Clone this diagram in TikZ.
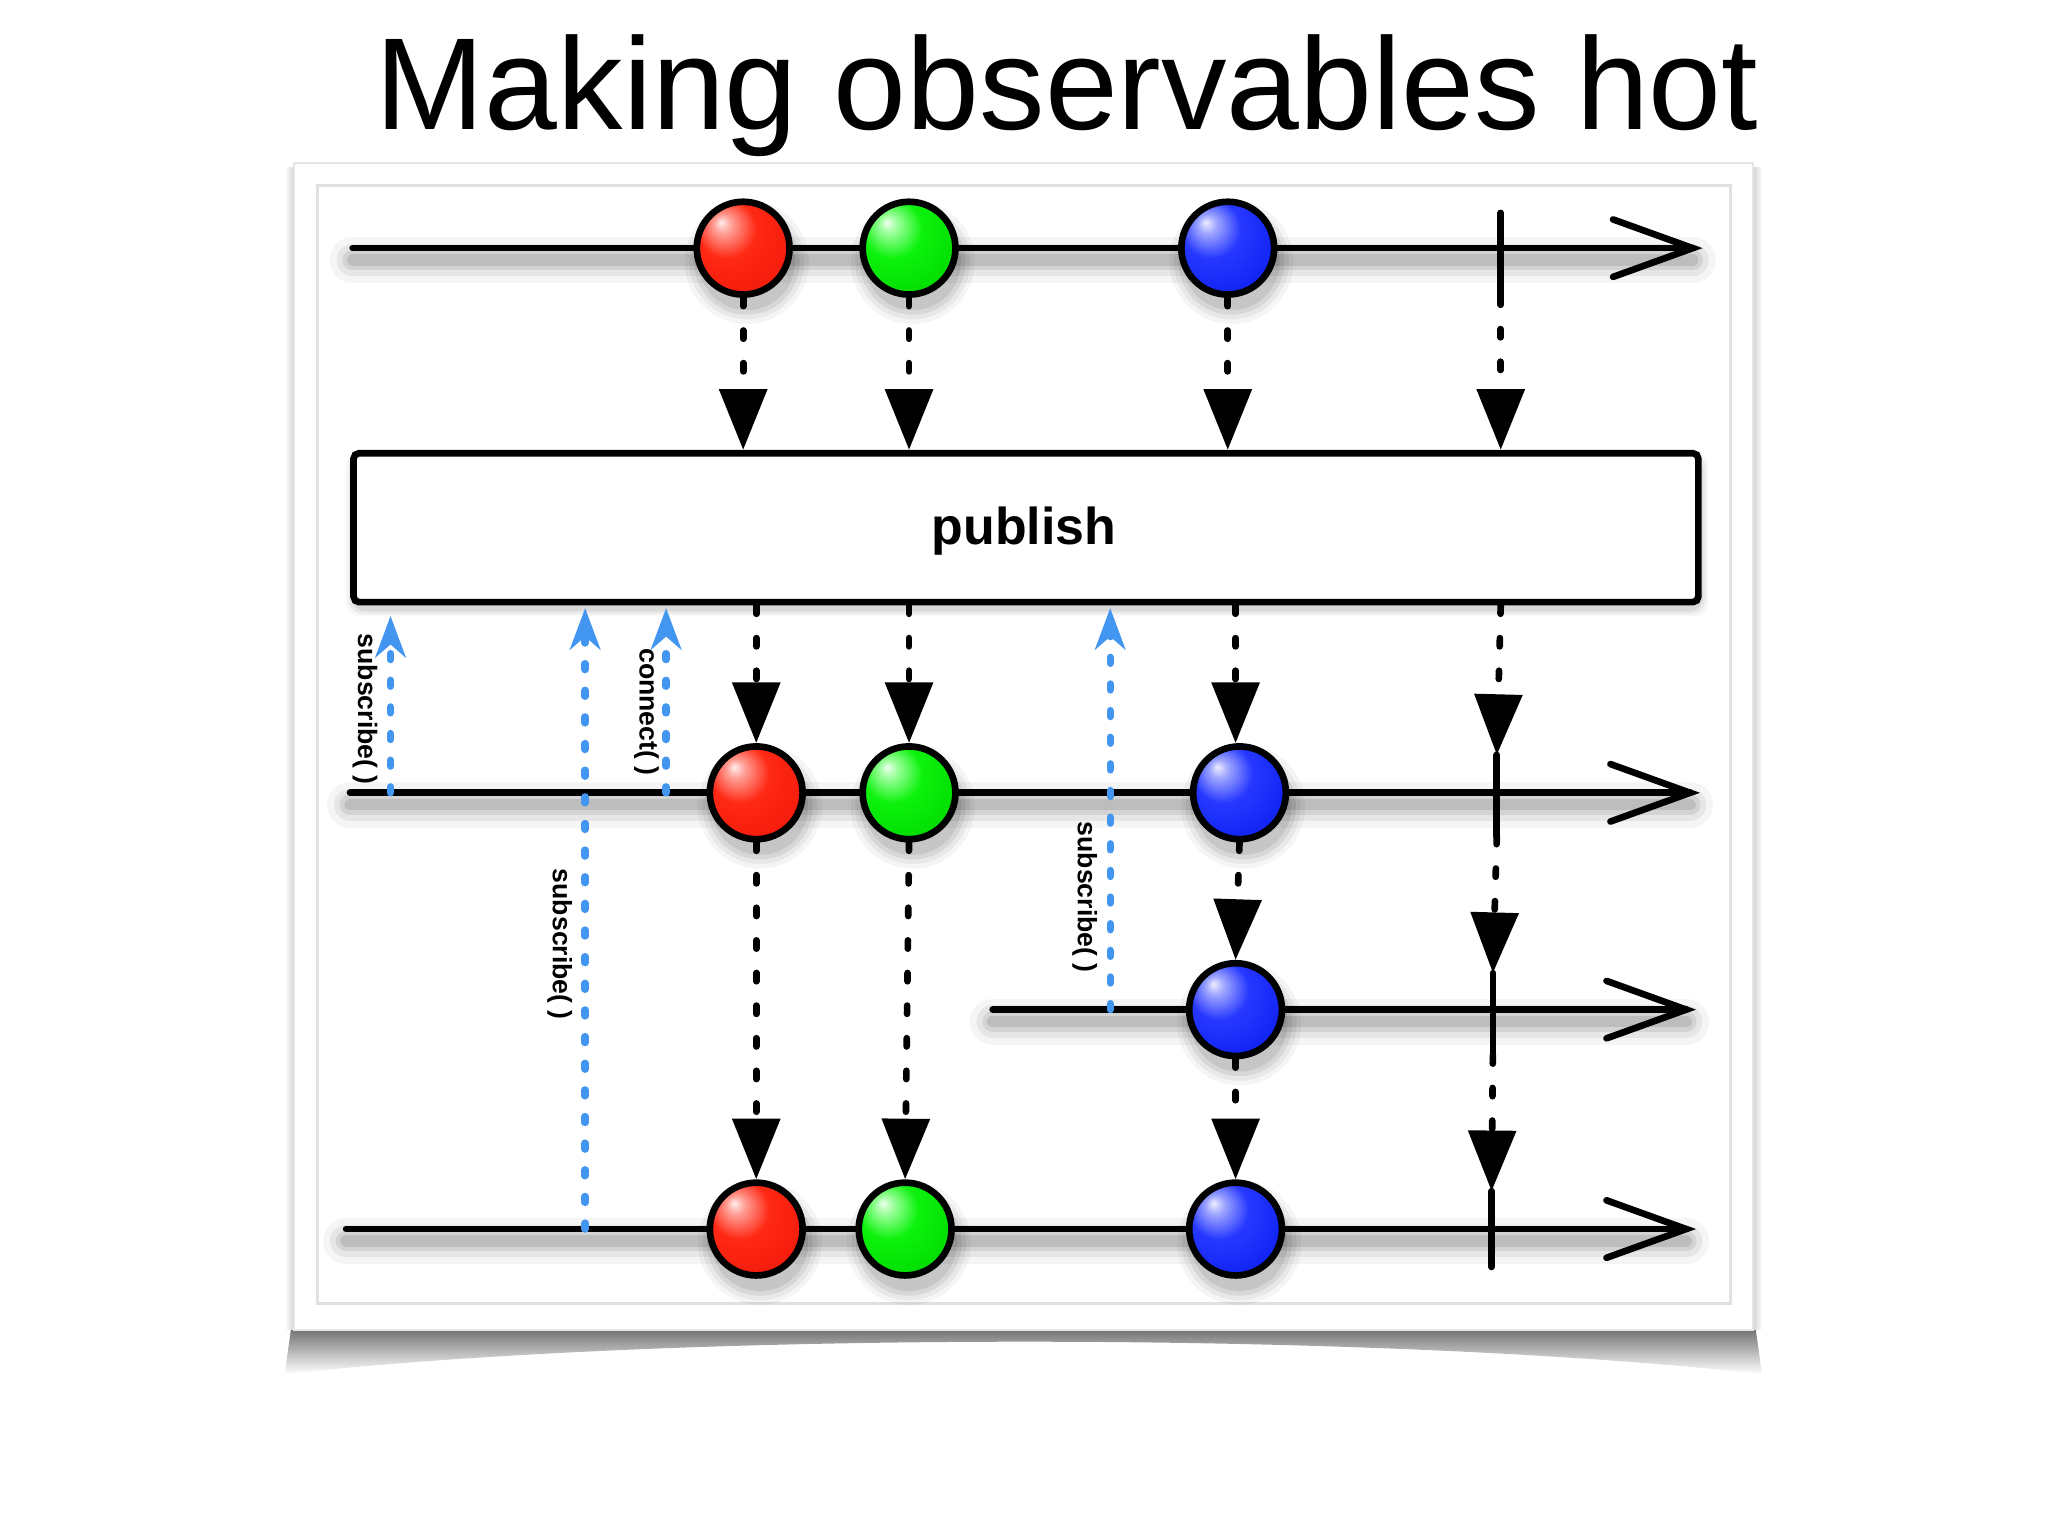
\documentclass[tikz,border=0pt]{standalone}
\usepackage{fontspec}
\setmainfont{Liberation Sans}
\usetikzlibrary{arrows.meta,calc}
\definecolor{sblue}{RGB}{66,150,240}
\pgfdeclareradialshading{redballsh}{\pgfqpoint{-12bp}{14bp}}{%
  rgb(0bp)=(1,0.93,0.93); rgb(5bp)=(1,0.62,0.58); rgb(16bp)=(1,0.16,0.08);
  rgb(36bp)=(0.95,0.1,0.04); rgb(52bp)=(0.62,0.03,0.0); rgb(64bp)=(0.45,0.0,0.0)}
\pgfdeclareradialshading{greenballsh}{\pgfqpoint{-12bp}{14bp}}{%
  rgb(0bp)=(0.93,1,0.93); rgb(5bp)=(0.6,1,0.6); rgb(16bp)=(0.05,0.95,0.05);
  rgb(36bp)=(0.0,0.85,0.0); rgb(52bp)=(0.0,0.55,0.0); rgb(64bp)=(0.0,0.38,0.0)}
\pgfdeclareradialshading{blueballsh}{\pgfqpoint{-12bp}{14bp}}{%
  rgb(0bp)=(0.93,0.93,1); rgb(5bp)=(0.62,0.65,1); rgb(16bp)=(0.15,0.22,1);
  rgb(36bp)=(0.05,0.12,0.95); rgb(52bp)=(0.0,0.05,0.6); rgb(64bp)=(0.0,0.0,0.4)}
\tikzset{
  ball/.style={circle, draw=black, line width=1.45pt, minimum size=0.71cm, inner sep=0pt},
  redball/.style={ball, shading=redballsh},
  greenball/.style={ball, shading=greenballsh},
  blueball/.style={ball, shading=blueballsh},
  tl/.style={line width=1.45pt, line cap=round, line join=miter},
  evarrow/.style={line width=1.45pt, dash pattern=on 1.8pt off 5.3pt, line cap=round,
    -{Triangle[length=13.2pt,width=10.2pt]}},
  subarrow/.style={sblue, line width=1.6pt, dash pattern=on 1.3pt off 4.5pt, line cap=round,
    -{Stealth[length=9pt,width=6.6pt,inset=2.8pt]}},
  lab/.style={font=\bfseries\fontsize{5.8}{6}\selectfont, rotate=-90, inner sep=0pt},
  pubbox/.style={draw=black, line width=1.45pt, fill=white, rounded corners=1.2pt,
    minimum width=10.29cm, minimum height=1.14cm, inner sep=0pt},
}
\newcommand\tlshadow[2]{%
  \foreach \ww/\oo in {10pt/0.04,7pt/0.06,4.5pt/0.08,2.5pt/0.1}{%
    \draw[line width=\ww, black, opacity=\oo, line cap=round] ([yshift=-2.6pt]#1) -- ([yshift=-2.6pt]#2);}}
\newcommand\ballshadow[1]{%
  \foreach \rr/\oo in {13.5pt/0.04,12.5pt/0.05,11.5pt/0.07,10.5pt/0.08}{%
    \fill[black, opacity=\oo] ([xshift=0.8pt,yshift=-3pt]#1) circle (\rr);}}
\begin{document}
\begin{tikzpicture}[x=0.01cm,y=-0.01cm]
\useasboundingbox (0,0) rectangle (1568,1176);
\fill[white] (0,0) rectangle (1568,1176);
% paper and its shadow
\shade[top color=black!58,bottom color=white] (223,1016) -- (1344,1016) -- (1349,1052) .. controls (1050,1019) and (520,1019) .. (218,1052) -- cycle;
\shade[left color=white,right color=black!18] (218,128) rectangle (225,1018);
\shade[left color=black!18,right color=white] (1342,128) rectangle (1349,1018);
\draw[black!10, fill=white] (225,125) rectangle (1342,1018);
\draw[black!12, line width=0.6pt] (243,142) rectangle (1325,998);
% title
\node[anchor=base, font=\fontsize{28.5}{30}\selectfont, inner sep=0pt] (title) at (817,99.5) {Making observables hot};
% coordinates
\coordinate (L1s) at (270,190); \coordinate (L1e) at (1296,190);
\coordinate (L2s) at (268,607); \coordinate (L2e) at (1294,607);
\coordinate (L3s) at (760,773); \coordinate (L3e) at (1291,773);
\coordinate (L4s) at (265,941); \coordinate (L4e) at (1291,941);
\coordinate (k1t) at (1149,163); \coordinate (k1b) at (1149,227);
\coordinate (k2t) at (1146,578); \coordinate (k2b) at (1146,640);
\coordinate (k3t) at (1143,745); \coordinate (k3b) at (1143,808);
\coordinate (k4t) at (1142,912); \coordinate (k4b) at (1142,970);
\coordinate (cr1) at (569,190); \coordinate (cg1) at (696,190); \coordinate (cb1) at (940,190);
\coordinate (cr2) at (579,607); \coordinate (cg2) at (696,607); \coordinate (cb2) at (949,607);
\coordinate (cb3) at (946,773);
\coordinate (cr4) at (579,941); \coordinate (cg4) at (693,941); \coordinate (cb4) at (946,941);
% shadows
\tlshadow{L1s}{L1e}\tlshadow{L2s}{L2e}\tlshadow{L3s}{L3e}\tlshadow{L4s}{L4e}
\foreach \oo/\dd in {0.03/6,0.05/4,0.07/2}{
  \fill[black, opacity=\oo, rounded corners=3pt] (271-\dd,352-\dd) rectangle (1302+\dd,466+\dd);}
% timelines
\foreach \s/\e in {L1s/L1e,L2s/L2e,L3s/L3e,L4s/L4e}{
  \draw[tl] (\s) -- (\e);
  \draw[tl] ($(\e)+(-61,-22)$) -- (\e) -- ($(\e)+(-61,22)$);}
\foreach \a/\b in {k1t/k1b,k2t/k2b,k3t/k3b,k4t/k4b}{\draw[tl] (\a) -- (\b);}
% balls
\foreach \c in {cr1,cg1,cb1,cr2,cg2,cb2,cb3,cr4,cg4,cb4}{\ballshadow{\c}}
\node[redball] (r1) at (cr1) {};
\node[greenball] (g1) at (cg1) {};
\node[blueball] (b1) at (cb1) {};
\node[redball] (r2) at (cr2) {};
\node[greenball] (g2) at (cg2) {};
\node[blueball] (b2) at (cb2) {};
\node[blueball] (b3) at (cb3) {};
\node[redball] (r4) at (cr4) {};
\node[greenball] (g4) at (cg4) {};
\node[blueball] (b4) at (cb4) {};
% publish box
\node[pubbox] (pub) at (785.5,404) {};
\node[anchor=base, font=\bfseries\fontsize{11.3}{12}\selectfont, inner sep=0pt] (pubtext) at (784,417) {publish};
% event arrows
\draw[evarrow] (r1.south) -- (r1.south |- pub.north);
\draw[evarrow] (g1.south) -- (g1.south |- pub.north);
\draw[evarrow] (b1.south) -- (b1.south |- pub.north);
\draw[evarrow] (k1b) -- (k1b |- pub.north);
\draw[evarrow] (r2 |- pub.south) -- (r2.north);
\draw[evarrow] (g2 |- pub.south) -- (g2.north);
\draw[evarrow] ($(b2 |- pub.south)+(-3,0)$) -- ($(b2.north)+(-3,0)$);
\draw[evarrow] ($(k2t |- pub.south)+(3,0)$) -- (k2t);
\draw[evarrow] (r2.south) -- (r4.north);
\draw[evarrow] (g2.south) -- (g4.north);
\draw[evarrow] (b2.south) -- (b3.north);
\draw[evarrow] (k2b) -- (k3t);
\draw[evarrow] (b3.south) -- (b4.north);
\draw[evarrow] (k3b) -- (k4t);
% subscribe / connect arrows
\coordinate (s1) at (299,607);
\coordinate (s2) at (448,941);
\coordinate (cn) at (510,607);
\coordinate (s3) at (850,773);
\draw[subarrow] (s1) -- ($(s1 |- pub.south)+(0,8)$);
\draw[subarrow] (s2) -- ($(s2 |- pub.south)+(0,2)$);
\draw[subarrow] (cn) -- ($(cn |- pub.south)+(0,2)$);
\draw[subarrow] (s3) -- ($(s3 |- pub.south)+(0,2)$);
\node[lab] (ls1) at (279.5,543) {subscribe( )};
\node[lab] (lcn) at (495,545) {connect( )};
\node[lab] (ls2) at (428.5,723) {subscribe( )};
\node[lab] (ls3) at (830.5,687) {subscribe( )};
\end{tikzpicture}
\end{document}
